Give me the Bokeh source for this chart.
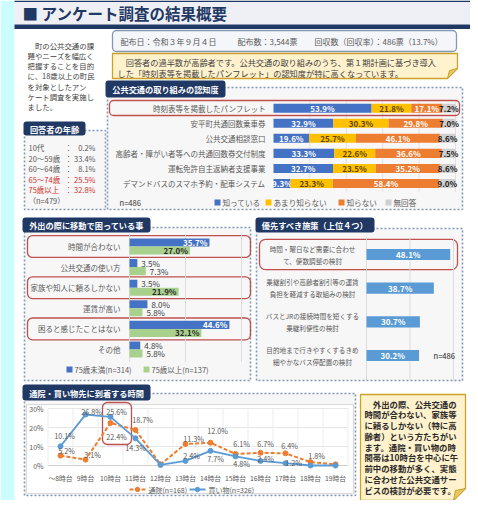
from bokeh.plotting import figure
from bokeh.models import Range1d
from bokeh.core.properties import value
from bokeh.embed import file_html
from bokeh.resources import INLINE

FONT = "Noto Sans CJK JP"

# ---------------- data ----------------
title = "■ アンケート調査の結果概要"
intro_lines = ["　町の公共交通の課", "題やニーズを幅広く", "把握することを目的", "に、18歳以上の町民",
               "を対象としたアン", "ケート調査を実施し", "ました。"]
survey_info = ["配布日：令和３年９月４日", "配布数：3,544票", "回収数（回収率）：486票（13.7%）"]
note_top = ["　回答者の過半数が高齢者です。公共交通の取り組みのうち、第１期計画に基づき導入",
            "した「時刻表等を掲載したパンフレット」の認知度が特に高くなっています。"]
panel_titles = ["回答者の年齢", "公共交通の取り組みの認知度", "外出の際に移動で困っている事",
                "優先すべき施策（上位４つ）", "通院・買い物先に到着する時間"]

age_labels = ["10代", "20～59歳", "60～64歳", "65～74歳", "75歳以上"]
age_values = [0.2, 33.4, 8.1, 25.5, 32.8]
age_n = "（n=479）"

aw_items = ["時刻表等を掲載したパンフレット", "安平町共通回数乗車券", "公共交通相談窓口",
            "高齢者・障がい者等への共通回数券交付制度", "運転免許自主返納者支援事業",
            "デマンドバスのスマホ予約・配車システム"]
aw_series = ["知っている", "あまり知らない", "知らない", "無回答"]
aw_known = [53.9, 32.9, 19.6, 33.3, 32.7, 9.3]
aw_little = [21.8, 30.3, 25.7, 22.6, 23.5, 23.3]
aw_unknown = [17.1, 29.8, 46.1, 36.6, 35.2, 58.4]
aw_noans = [7.2, 7.0, 8.6, 7.5, 8.6, 9.0]
aw_n = "n=486"

tr_items = ["時間が合わない", "公共交通の使い方", "家族や知人に頼るしかない", "運賃が高い",
            "困ると感じたことはない", "その他"]
tr_series = ["75歳未満(n=314)", "75歳以上(n=137)"]
tr_under75 = [35.7, 3.5, 3.5, 8.0, 44.6, 4.8]
tr_over75 = [27.0, 7.3, 21.9, 5.8, 32.1, 5.8]

pr_items = ["時間・曜日など需要に合わせ\nて、便数調整の検討",
            "乗継割引や高齢者割引等の運賃\n負担を軽減する取組みの検討",
            "バスとJRの接続時間を短くする\n乗継利便性の検討",
            "目的地まで行きやすくするきめ\n細やかなバス停配置の検討"]
pr_values = [48.1, 38.7, 30.7, 30.2]
pr_n = "n=486"

hours = ["～8時台", "9時台", "10時台", "11時台", "12時台", "13時台", "14時台",
         "15時台", "16時台", "17時台", "18時台", "19時台"]
hospital = [5.2, 3.1, 22.4, 18.7, 0.6, 11.3, 12.0, 6.1, 6.7, 6.4, 1.8, 0.6]
shopping = [10.1, 26.8, 25.6, 14.3, 0.3, 2.4, 7.7, 4.8, 2.4, 1.2, 0.0, 0.0]
line_series = ["通院(n=168)", "買い物(n=326)"]
line_yticks = [0, 10, 20, 30]

note_bottom = ["　外出の際、公共交通の", "時間が合わない、家族等", "に頼るしかない（特に高",
               "齢者）という方たちがい", "ます。通院・買い物の時", "間帯は10時台を中心に午",
               "前中の移動が多く、実態", "に合わせた公共交通サー", "ビスの検討が必要です。"]

# ---------------- styles ----------------
NAVY = "#1f3864"
GRAY_TXT = "#595959"
DASH_COL = "#8197b8"
PANEL_FILL = "#f7f7f7"
RED = "#c0504d"
aw_colors = ["#4472c4", "#ffc000", "#ed7d31", "#d0d0d0"]
aw_lblcolors = ["white", "#5c4500", "white", "#222222"]
tr_colors = ["#4472c4", "#a9d18e"]
pr_color = "#5b9bd5"
ln_colors = ["#ed7d31", "#5b9bd5"]
age_colors = [GRAY_TXT, GRAY_TXT, GRAY_TXT, "#d0312d", "#d0312d"]
tr_highlight = [0, 2, 4]
hosp_off = [(6, -5), (7, -5), (6, 14), (7, -10), None, (8, -5), (7, -12), (6, -10), (5, -9), (4, -7), (6, -6), None]
shop_off = [(4, -10), (6, -3), (6, -5), (0, 10), None, (6, -5), (5, 8), (6, 8), (5, -2), (8, 0), None, None]

# ---------------- canvas ----------------
p = figure(width=470, height=500, x_range=Range1d(8, 478), y_range=Range1d(508, 8),
           output_backend="svg", toolbar_location=None, min_border=0,
           x_axis_location=None, y_axis_location=None)
p.xgrid.visible = False
p.ygrid.visible = False
p.outline_line_color = None
p.background_fill_color = "white"
p.border_fill_color = "white"


def xr(v0, p0, v1, p1):
    k = (p1 - p0) / (v1 - v0)
    s = v0 - (p0 - 8) / k
    return Range1d(s, s + 470 / k)


def yr(v0, p0, v1, p1):
    m = (p0 - p1) / (v1 - v0)
    s = v0 - (508 - p0) / m
    return Range1d(s, s + 500 / m)


p.extra_x_ranges = {"aw": xr(0, 281, 100, 463), "tr": xr(0, 137, 50, 249),
                    "pr": xr(0, 374, 50, 461), "ln": xr(0, 68, 11, 343)}
p.extra_y_ranges = {"aw": yr(0, 115.7, 5, 191), "tr": yr(0, 254, 5, 357),
                    "pr": yr(0, 262, 3, 363), "ln": yr(0, 473, 30, 416)}


def B(v, n):
    return list(v) if isinstance(v, (list, tuple)) else [v] * n


def T(xs, ys, ss, size=7.5, color=GRAY_TXT, align="left", bold=False, xn="default", yn="default",
      xo=0, yo=0, baseline="middle"):
    n = max(len(v) if isinstance(v, (list, tuple)) else 1 for v in (xs, ys, ss))
    kw = {}
    if isinstance(color, (list, tuple)):
        kw["text_color"] = list(color)
    else:
        kw["text_color"] = color
    p.text(x=B(xs, n), y=B(ys, n), text=B(ss, n), x_offset=B(xo, n), y_offset=B(yo, n),
           text_font=value(FONT), text_font_size=f"{size}px", text_align=align,
           text_baseline=baseline, text_font_style="bold" if bold else "normal",
           x_range_name=xn, y_range_name=yn, **kw)


def Q(l, r, t, b, fill=None, line=None, lw=1.0, dash="solid", radius=0, xn="default", yn="default"):
    n = max(len(v) if isinstance(v, (list, tuple)) else 1 for v in (l, r, t, b))
    p.quad(left=B(l, n), right=B(r, n), top=B(t, n), bottom=B(b, n), fill_color=fill,
           line_color=line, line_width=lw, line_dash=dash, border_radius=radius,
           x_range_name=xn, y_range_name=yn)


# left cyan strip & header
Q(8, 22, 8, 508, fill="#ccfdfd")
Q(22, 478, 8, 32, fill="#eef0f5")
Q(22, 478, 8, 9.5, fill=NAVY)
Q(22, 478, 32, 36.5, fill=NAVY)
T(30, 20.5, title, size=15.5, color=NAVY, bold=True)

# intro text
T(35, [52.5 + 10.3 * i for i in range(len(intro_lines))], intro_lines, size=7.4, color="#404040")

# survey info box
Q(120, 464, 38, 59, fill="#f5f6f9", line="#8497b0", lw=1.3, radius=4)
T([128, 245, 322], 48.5, survey_info, size=8, color=GRAY_TXT)

# yellow note (top)
p.patch([120, 465, 465, 455, 120], [61, 61, 76, 86, 86], fill_color="#fff2cc", line_color="#c9a227", line_width=1.3)
p.patch([465, 455, 457], [76, 86, 78], fill_color="#e6c766", line_color="#c9a227", line_width=1)
T(125, [69.5, 80], note_top, size=8.2, color="#404040")

# dashed panels
Q(32, 113, 138, 217, fill=PANEL_FILL, line=DASH_COL, lw=1.6, dash="2 2")
Q(115, 470, 95, 217, fill=PANEL_FILL, line=DASH_COL, lw=1.6, dash="2 2")
Q(32, 258, 235, 388, fill=PANEL_FILL, line=DASH_COL, lw=1.6, dash="2 2")
Q(264, 470, 236, 388, fill=PANEL_FILL, line=DASH_COL, lw=1.6, dash="2 2")
Q(32, 363, 401, 503, fill=PANEL_FILL, line=DASH_COL, lw=1.6, dash="2 2")
Q(34, 361, 412, 501, fill="white", line="#d9d9d9", lw=1)

# tabs
tab_l = [31, 113, 30, 263, 30]
tab_r = [93, 233, 158, 382, 158]
tab_t = [129, 88, 225, 225, 392]
tab_b = [143, 105, 240, 240, 408]
Q(tab_l, tab_r, tab_t, tab_b, fill=NAVY, line=None, radius=3)
T([(a + b) / 2 for a, b in zip(tab_l, tab_r)], [(a + b) / 2 for a, b in zip(tab_t, tab_b)],
  panel_titles, size=8.2, color="white", align="center", bold=True)

# ---------------- age ----------------
age_y = [155 + 10.6 * i for i in range(len(age_labels))]
T(36, age_y, age_labels, size=7.5, color=age_colors)
T(76, age_y, ["："] * len(age_labels), size=7.5, color=age_colors, align="center")
T(103, age_y, [f"{v:.1f}%" for v in age_values], size=7.5, color=age_colors, align="right")
T(36, 207.5, age_n, size=7.5, color=GRAY_TXT)

# ---------------- awareness stacked bars ----------------
aw_idx = list(range(len(aw_items)))
for g in [20, 40, 60, 80, 100]:
    p.segment(x0=[g], y0=[-0.55], x1=[g], y1=[5.55], line_color="#e2e2e2", line_width=1,
              x_range_name="aw", y_range_name="aw")
Q(117, 467, 108, 123, fill=None, line=RED, lw=1.3, radius=4)
left = [0.0] * len(aw_items)
for vals, c, lc in zip([aw_known, aw_little, aw_unknown, aw_noans], aw_colors, aw_lblcolors):
    right = [a + v for a, v in zip(left, vals)]
    p.hbar(y=aw_idx, left=left, right=right, height=0.6, fill_color=c, line_color=None,
           x_range_name="aw", y_range_name="aw")
    T([(a + b) / 2 for a, b in zip(left, right)], aw_idx, [f"{v:.1f}%" for v in vals],
      size=8, color=lc, align="center", bold=True, xn="aw", yn="aw")
    left = right
T(273, aw_idx, aw_items, size=7.5, color=GRAY_TXT, align="right", yn="aw")
leg_x = [222, 273, 346, 393]
for x, c, s in zip(leg_x, aw_colors, aw_series):
    Q(x, x + 6, 207, 213, fill=c, line=None)
    T(x + 8, 210, s, size=7.6, color=GRAY_TXT)
T(127, 210, aw_n, size=7.6, color="#333333")

# ---------------- trouble bars ----------------
tr_idx = list(range(len(tr_items)))
Q(35, 258, [i - 0.53 for i in tr_highlight], [i + 0.53 for i in tr_highlight],
  fill=None, line=RED, lw=1.3, radius=5, yn="tr")
for g in [0, 25, 50]:
    p.segment(x0=[g], y0=[-0.6], x1=[g], y1=[5.6], line_color="#dcdcdc", line_width=1,
              x_range_name="tr", y_range_name="tr")
for k, (vals, c) in enumerate(zip([tr_under75, tr_over75], tr_colors)):
    yy = [i + (-0.195 if k == 0 else 0.195) for i in tr_idx]
    p.hbar(y=yy, left=0, right=vals, height=0.39, fill_color=c, line_color=None,
           x_range_name="tr", y_range_name="tr")
    inside = [j for j, v in enumerate(vals) if v >= 20]
    outside = [j for j, v in enumerate(vals) if v < 20]
    T([vals[j] for j in inside], [yy[j] for j in inside], [f"{vals[j]:.1f}%" for j in inside],
      size=8, color="white" if k == 0 else "#2b2b2b", align="right", bold=True, xn="tr", yn="tr", xo=-2)
    T([vals[j] for j in outside], [yy[j] for j in outside], [f"{vals[j]:.1f}%" for j in outside],
      size=8, color="#404040", align="left", xn="tr", yn="tr", xo=4)
T(128, tr_idx, tr_items, size=7.5, color=GRAY_TXT, align="right", yn="tr")
for x, c, s in zip([74, 151], tr_colors, tr_series):
    Q(x, x + 6, 374, 380, fill=c, line=None)
    T(x + 8, 377, s, size=7.5, color=GRAY_TXT)

# ---------------- priority bars ----------------
pr_idx = list(range(len(pr_items)))
Q(267, 465, -0.45, 0.45, fill=None, line=RED, lw=1.3, radius=6, yn="pr")
for g in [0, 25, 50]:
    p.segment(x0=[g], y0=[-0.5], x1=[g], y1=[3.75], line_color="#dcdcdc", line_width=1,
              x_range_name="pr", y_range_name="pr")
p.hbar(y=pr_idx, left=0, right=pr_values, height=0.33, fill_color=pr_color, line_color=None,
       x_range_name="pr", y_range_name="pr")
T([v / 2 for v in pr_values], pr_idx, [f"{v:.1f}%" for v in pr_values], size=8, color="white",
  align="center", bold=True, xn="pr", yn="pr")
T(320, pr_idx, [s.split("\n")[0] for s in pr_items], size=6.6, color=GRAY_TXT, align="center", yn="pr", yo=-6)
T(320, pr_idx, [s.split("\n")[1] for s in pr_items], size=6.6, color=GRAY_TXT, align="center", yn="pr", yo=6)
T(441, 3, pr_n, size=7.6, color="#222222", yn="pr")

# ---------------- line chart ----------------
h_idx = list(range(len(hours)))
for t in line_yticks:
    p.segment(x0=[-0.5], y0=[t], x1=[len(hours) - 0.5], y1=[t],
              line_color="#d0d0d0" if t == 0 else "#e6e6e6", line_width=1,
              x_range_name="ln", y_range_name="ln")
for i in range(len(hours) + 1):
    p.segment(x0=[i - 0.5], y0=[0], x1=[i - 0.5], y1=[line_yticks[-1]], line_color="#ededed",
              line_width=1, x_range_name="ln", y_range_name="ln")
T(51, line_yticks, [f"{t}%" for t in line_yticks], size=7, color=GRAY_TXT, align="right", yn="ln")
T(h_idx, 485, hours, size=6.8, color=GRAY_TXT, align="center", xn="ln")
p.quad(left=[1.68], right=[2.84], top=[410], bottom=[452], fill_color=None, line_color=RED,
       line_width=1.3, border_radius=5, x_range_name="ln")
p.line(h_idx, hospital, line_color=ln_colors[0], line_width=2, line_dash="4 2",
       x_range_name="ln", y_range_name="ln")
p.scatter(h_idx, hospital, size=5, fill_color=ln_colors[0], line_color=ln_colors[0],
          x_range_name="ln", y_range_name="ln")
p.line(h_idx, shopping, line_color=ln_colors[1], line_width=1.8,
       x_range_name="ln", y_range_name="ln")
p.scatter(h_idx, shopping, size=5, fill_color=ln_colors[1], line_color=ln_colors[1],
          x_range_name="ln", y_range_name="ln")
for vals, offs in [(hospital, hosp_off), (shopping, shop_off)]:
    js = [j for j, o in enumerate(offs) if o is not None]
    T([j for j in js], [vals[j] for j in js], [f"{vals[j]:.1f}%" for j in js], size=7.2,
      color=GRAY_TXT, align="center", xn="ln", yn="ln",
      xo=[offs[j][0] for j in js], yo=[offs[j][1] for j in js])
# legend
p.line([137, 153], [497, 497], line_color=ln_colors[0], line_width=2, line_dash="4 2")
p.scatter([145], [497], size=4.5, fill_color=ln_colors[0], line_color=ln_colors[0])
T(156, 497, line_series[0], size=7, color=GRAY_TXT)
p.line([197, 213], [497, 497], line_color=ln_colors[1], line_width=2)
p.scatter([205], [497], size=4.5, fill_color=ln_colors[1], line_color=ln_colors[1])
T(216, 497, line_series[1], size=7, color=GRAY_TXT)

# ---------------- bottom-right note ----------------
p.patch([368, 473, 473, 461, 368], [402, 402, 496, 508, 508], fill_color="#fff2cc",
        line_color="#c9a227", line_width=1.3)
p.patch([473, 461, 463], [496, 508, 498], fill_color="#e6c766", line_color="#c9a227", line_width=1)
T(372, [411 + 10.75 * i for i in range(len(note_bottom))], note_bottom, size=8.4,
  color="#2b2b2b", bold=True)

open("out.html", "w").write(file_html(p, INLINE))
